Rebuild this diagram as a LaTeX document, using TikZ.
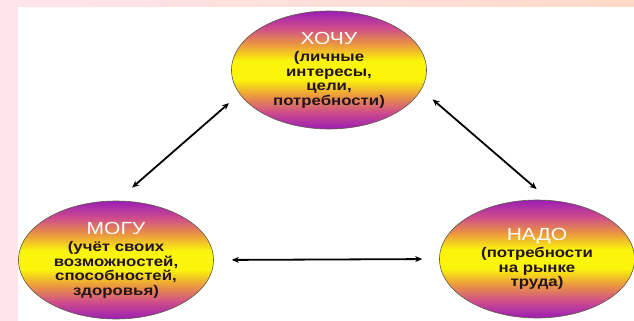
\documentclass[tikz,border=0pt]{standalone}
\usepackage{fontspec}
\newfontfamily\wishfont[FakeStretch=1.2]{Liberation Sans}
\definecolor{wishpurple}{RGB}{155,30,180}
\definecolor{wishpink}{RGB}{205,75,140}
\definecolor{wishorange}{RGB}{235,150,65}
\definecolor{wishyellow}{RGB}{250,245,10}
\definecolor{wishrim}{RGB}{90,90,70}
\definecolor{wishtext}{RGB}{35,20,30}
\definecolor{framepink}{RGB}{255,228,236}
\definecolor{framepeach}{RGB}{255,218,200}
\usetikzlibrary{arrows.meta, shapes.geometric}
\pgfdeclareverticalshading{wishshade}{100bp}{color(0bp)=(wishpurple); color(25bp)=(wishpurple);
  color(32bp)=(wishpink); color(39bp)=(wishorange); color(46bp)=(wishyellow);
  color(54bp)=(wishyellow); color(61bp)=(wishorange); color(68bp)=(wishpink);
  color(75bp)=(wishpurple); color(100bp)=(wishpurple)}
\newcommand\wishtitle[1]{{\color{white}\mdseries\fontsize{17.5}{18}\selectfont #1}}

\begin{document}
\begin{tikzpicture}[x=1pt, y=-1pt, >={Stealth[length=7pt,width=6pt]},
    wish/.style={ellipse, draw=wishrim, line width=0.6pt, shading=wishshade,
      minimum width=195pt, minimum height=118pt, inner sep=0pt, align=center,
      text=wishtext, font=\wishfont\bfseries\fontsize{14}{14.5}\selectfont},
    link/.style={<->, line width=1.8pt}]
      \useasboundingbox (0,0) rectangle (634,321);
      % Frame
      \fill[framepink] (0,0) rectangle (634,321);
      \shade[left color=framepink, right color=framepeach] (0,0) rectangle (634,7);
      \fill[white] (18,7) rectangle (634,321);
      % Ellipses
      \node[wish] (hochu) at (329,70)
        {\wishtitle{ХОЧУ}\\[3pt] (личные\\ интересы,\\ цели,\\ потребности)};
      \node[wish] (mogu) at (116,260)
        {\wishtitle{МОГУ}\\[3pt] (учёт своих\\ возможностей,\\ способностей,\\ здоровья)};
      \node[wish] (nado) at (537,259)
        {\wishtitle{НАДО}\\[3pt] (потребности\\ на рынке\\ труда)};
      % Arrows
      \draw[link, shorten <=14pt, shorten >=20pt] (hochu.195) -- (mogu.89);
      \draw[link, shorten <=15pt, shorten >=17pt] (hochu.348) -- (nado.78);
      \draw[link, shorten <=18pt, shorten >=17pt] (mogu.east) -- (nado.west);
    \end{tikzpicture}
\end{document}
